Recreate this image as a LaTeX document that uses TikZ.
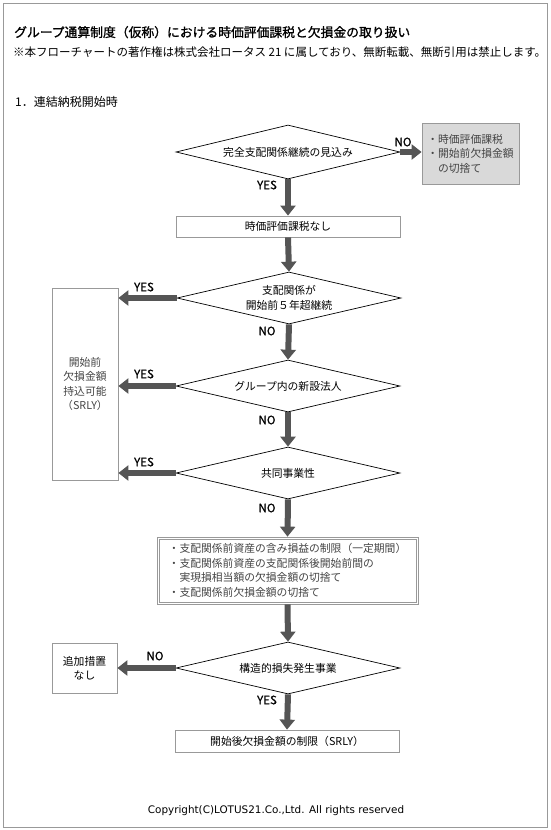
\documentclass[tikz,border=0pt]{standalone}
\usepackage{fontspec}
\setmainfont{Noto Sans CJK JP}
\newfontfamily\titlefont[FakeBold=1.2]{Noto Sans CJK JP}
\newfontfamily\lblfont[FakeBold=0.8]{Noto Sans CJK JP}
\newfontfamily\copyfont{DejaVu Sans}
\usetikzlibrary{shapes.geometric,arrows.meta}
\definecolor{arrowgray}{HTML}{555555}
\definecolor{boxgray}{HTML}{999999}
\definecolor{fillgray}{HTML}{D9D9D9}
\definecolor{txtgray}{HTML}{444444}
\begin{document}
\begin{tikzpicture}[x=1pt,y=-1pt,
  dec/.style={diamond, draw=black, line width=0.7pt, aspect=3.7, inner sep=0pt,
    minimum width=224pt, minimum height=52pt, font=\fontsize{10.8}{15}\selectfont, align=center},
  box/.style={draw=boxgray, line width=0.8pt, inner sep=0pt,
    font=\fontsize{10.8}{14.5}\selectfont, align=center},
  flow/.style={draw=arrowgray, line width=6pt, -{Triangle[width=15pt,length=10pt]}},
  lbl/.style={font=\lblfont\fontsize{11.5}{13}\selectfont, text=black, inner sep=0pt},
]
\useasboundingbox (0,0) rectangle (550,830);
\draw[boxgray, line width=0.8pt] (3,3) rectangle (547,827);

\node[anchor=base west, inner sep=0pt, font=\titlefont\fontsize{12.8}{15}\selectfont] (title) at (14,37)
  {グループ通算制度（仮称）における時価評価課税と欠損金の取り扱い};
\node[anchor=base west, inner sep=0pt, font=\fontsize{11.5}{13}\selectfont] (note) at (13,56)
  {※本フローチャートの著作権は株式会社ロータス 21 に属しており、無断転載、無断引用は禁止します。};
\node[anchor=base west, inner sep=0pt, font=\fontsize{12}{14}\selectfont] (head) at (15,106)
  {1．連結納税開始時};

% decisions and boxes
\node[dec, minimum height=54pt] (d1) at (288,152) {完全支配関係継続の見込み};
\node[box, fill=fillgray, minimum width=97pt, minimum height=61pt, align=left, text=txtgray] (g1) at (470.5,153.5)
  {・時価評価課税\\・開始前欠損金額\\　の切捨て};
\node[box, minimum width=224pt, minimum height=21pt] (b1) at (288,226.5) {時価評価課税なし};
\node[dec] (d2) at (289,298) {支配関係が\\開始前５年超継続};
\node[dec] (d3) at (288,386) {グループ内の新設法人};
\node[dec] (d4) at (288,473) {共同事業性};
\node[box, minimum width=66pt, minimum height=192pt, text=txtgray] (l1) at (85,384)
  {開始前\\欠損金額\\持込可能\\（SRLY）};
\node[box, line width=0.7pt, minimum width=261pt, minimum height=67pt,
  align=left, text=txtgray] (b2) at (287.5,570.5)
  {・支配関係前資産の含み損益の制限（一定期間）\\・支配関係前資産の支配関係後開始前間の\\　実現損相当額の欠損金額の切捨て\\・支配関係前欠損金額の切捨て};
\draw[boxgray, line width=0.7pt] ([xshift=2.2pt,yshift=-2.2pt]b2.north west) rectangle ([xshift=-2.2pt,yshift=2.2pt]b2.south east);
\node[dec] (d5) at (288,668) {構造的損失発生事業};
\node[box, minimum width=65pt, minimum height=50pt] (l2) at (84.5,668) {追加措置\\なし};
\node[box, minimum width=224pt, minimum height=22pt] (b3) at (287,741) {開始後欠損金額の制限（SRLY）};

% connectors
\draw[flow] (d1.south) -- (b1.north);
\draw[flow] (d1.east) -- (d1.east -| g1.west);
\draw[flow] (b1.south) -- (d2.north);
\draw[flow] (d2.west) -- (d2.west -| l1.east);
\draw[flow] (d2.south) -- (d3.north);
\draw[flow] (d3.west) -- (d3.west -| l1.east);
\draw[flow] (d3.south) -- (d4.north);
\draw[flow] (d4.west) -- (d4.west -| l1.east);
\draw[flow] (d4.south) -- (b2.north);
\draw[flow] (b2.south) -- (d5.north);
\draw[flow] (d5.west) -- (l2.east);
\draw[flow] (d5.south) -- (b3.north);

% labels
\node[lbl] (y1) at (267,185) {YES};
\node[lbl] (n1) at (403,142) {NO};
\node[lbl] (y2) at (144,287) {YES};
\node[lbl] (n2) at (267,331) {NO};
\node[lbl] (y3) at (144,374) {YES};
\node[lbl] (n3) at (267,420) {NO};
\node[lbl] (y4) at (144,462) {YES};
\node[lbl] (n4) at (267,508) {NO};
\node[lbl] (n5) at (155,656) {NO};
\node[lbl] (y5) at (267,700) {YES};

\node[inner sep=0pt, font=\copyfont\fontsize{10.4}{12}\selectfont] (copy) at (276,811)
  {Copyright(C)LOTUS21.Co.,Ltd. All rights reserved};
\end{tikzpicture}
\end{document}
